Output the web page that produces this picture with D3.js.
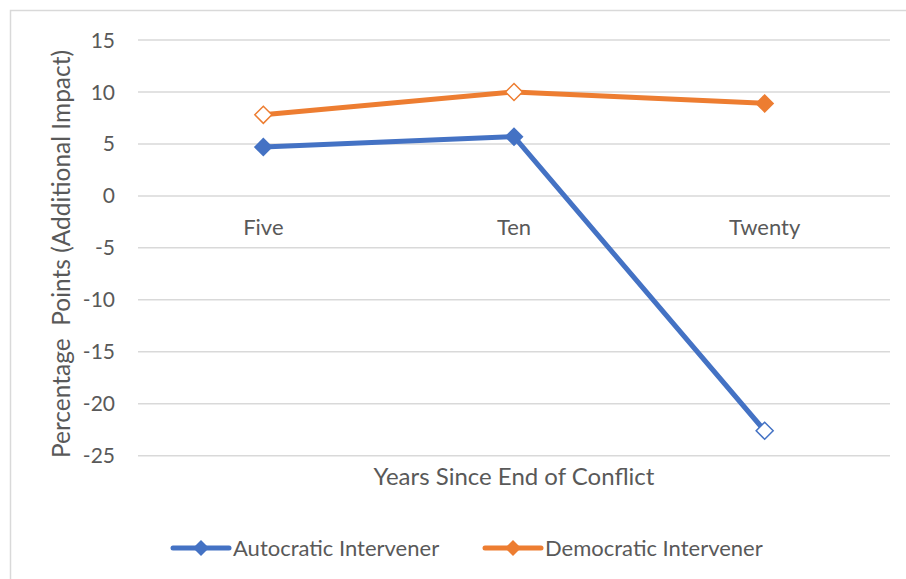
<!DOCTYPE html>
<html>
<head>
<meta charset="utf-8">
<script src="https://cdn.jsdelivr.net/npm/d3@7"></script>
<style>
  body { margin: 0; background: #fff; }
  svg { display: block; font-family: Lato, "Open Sans", sans-serif; }
</style>
</head>
<body>
<div id="chart-container"></div>
<script>
const categories = ["Five", "Ten", "Twenty"];
const autocratic = [4.7, 5.7, -22.6];
const democratic = [7.8, 10.0, 8.9];
// hollow markers in the original
const autocraticHollow = [false, false, true];
const democraticHollow = [true, true, false];
const yTicks = [15, 10, 5, 0, -5, -10, -15, -20, -25];

const series = [
  { name: "Autocratic Intervener", values: autocratic, hollow: autocraticHollow, color: "#4472c4" },
  { name: "Democratic Intervener", values: democratic, hollow: democraticHollow, color: "#ed7d31" }
];

const width = 906;
const height = 579;
const marginLeft = 138;
const marginRight = 16;

const x = d3.scalePoint()
  .domain(categories)
  .range([marginLeft, width - marginRight])
  .padding(0.5);

const y = d3.scaleLinear()
  .domain([-25, 15])
  .range([455.7, 40]);

const svg = d3.create("svg")
  .attr("width", width)
  .attr("height", height);
document.getElementById("chart-container").appendChild(svg.node());

// chart frame
svg.append("path")
  .attr("d", `M10.5,${height} V10.5 H${width}`)
  .attr("fill", "none")
  .attr("stroke", "#d9d9d9")
  .attr("stroke-width", 1.5);

// gridlines
svg.append("g")
  .selectAll("line")
  .data(yTicks)
  .join("line")
  .attr("x1", marginLeft)
  .attr("x2", width - marginRight)
  .attr("y1", d => y(d))
  .attr("y2", d => y(d))
  .attr("stroke", "#d9d9d9")
  .attr("stroke-width", 1.5);

// y tick labels
svg.append("g")
  .selectAll("text")
  .data(yTicks)
  .join("text")
  .attr("x", 115)
  .attr("y", d => y(d))
  .attr("dy", "0.36em")
  .attr("text-anchor", "end")
  .attr("font-size", 21)
  .attr("fill", "#595959")
  .text(d => d);

// category labels sit just under the zero line
svg.append("g")
  .selectAll("text")
  .data(categories)
  .join("text")
  .attr("x", d => x(d))
  .attr("y", y(0) + 39)
  .attr("text-anchor", "middle")
  .attr("font-size", 22)
  .attr("fill", "#595959")
  .text(d => d);

// axis titles
svg.append("text")
  .attr("x", (marginLeft + width - marginRight) / 2)
  .attr("y", 485)
  .attr("text-anchor", "middle")
  .attr("font-size", 24)
  .attr("fill", "#595959")
  .text("Years Since End of Conflict");

svg.append("text")
  .attr("transform", `translate(70,254) rotate(-90)`)
  .attr("text-anchor", "middle")
  .attr("font-size", 24.5)
  .attr("fill", "#595959")
  .style("white-space", "pre")
  .text("Percentage  Points (Additional Impact)");

const line = d3.line()
  .x((d, i) => x(categories[i]))
  .y(d => y(d));

const diamond = s => `M0,${-s} L${s},0 L0,${s} L${-s},0 Z`;

series.forEach(s => {
  svg.append("path")
    .datum(s.values)
    .attr("d", line)
    .attr("fill", "none")
    .attr("stroke", s.color)
    .attr("stroke-width", 5)
    .attr("stroke-linejoin", "round");

  svg.append("g")
    .selectAll("path")
    .data(s.values)
    .join("path")
    .attr("transform", (d, i) => `translate(${x(categories[i])},${y(d)})`)
    .attr("d", (d, i) => s.hollow[i] ? diamond(8.5) : diamond(9.5))
    .attr("fill", (d, i) => s.hollow[i] ? "#fff" : s.color)
    .attr("stroke", s.color)
    .attr("stroke-width", (d, i) => s.hollow[i] ? 1.5 : 0);
});

// legend
const legendX = [173, 485];
series.forEach((s, i) => {
  const g = svg.append("g").attr("transform", `translate(${legendX[i]},548)`);
  g.append("line")
    .attr("x1", 0).attr("x2", 56)
    .attr("stroke", s.color)
    .attr("stroke-width", 5)
    .attr("stroke-linecap", "round");
  g.append("path")
    .attr("transform", "translate(28,0)")
    .attr("d", diamond(8))
    .attr("fill", s.color);
  g.append("text")
    .attr("x", 60)
    .attr("dy", "0.36em")
    .attr("font-size", 22)
    .attr("fill", "#595959")
    .text(s.name);
});
</script>
</body>
</html>
